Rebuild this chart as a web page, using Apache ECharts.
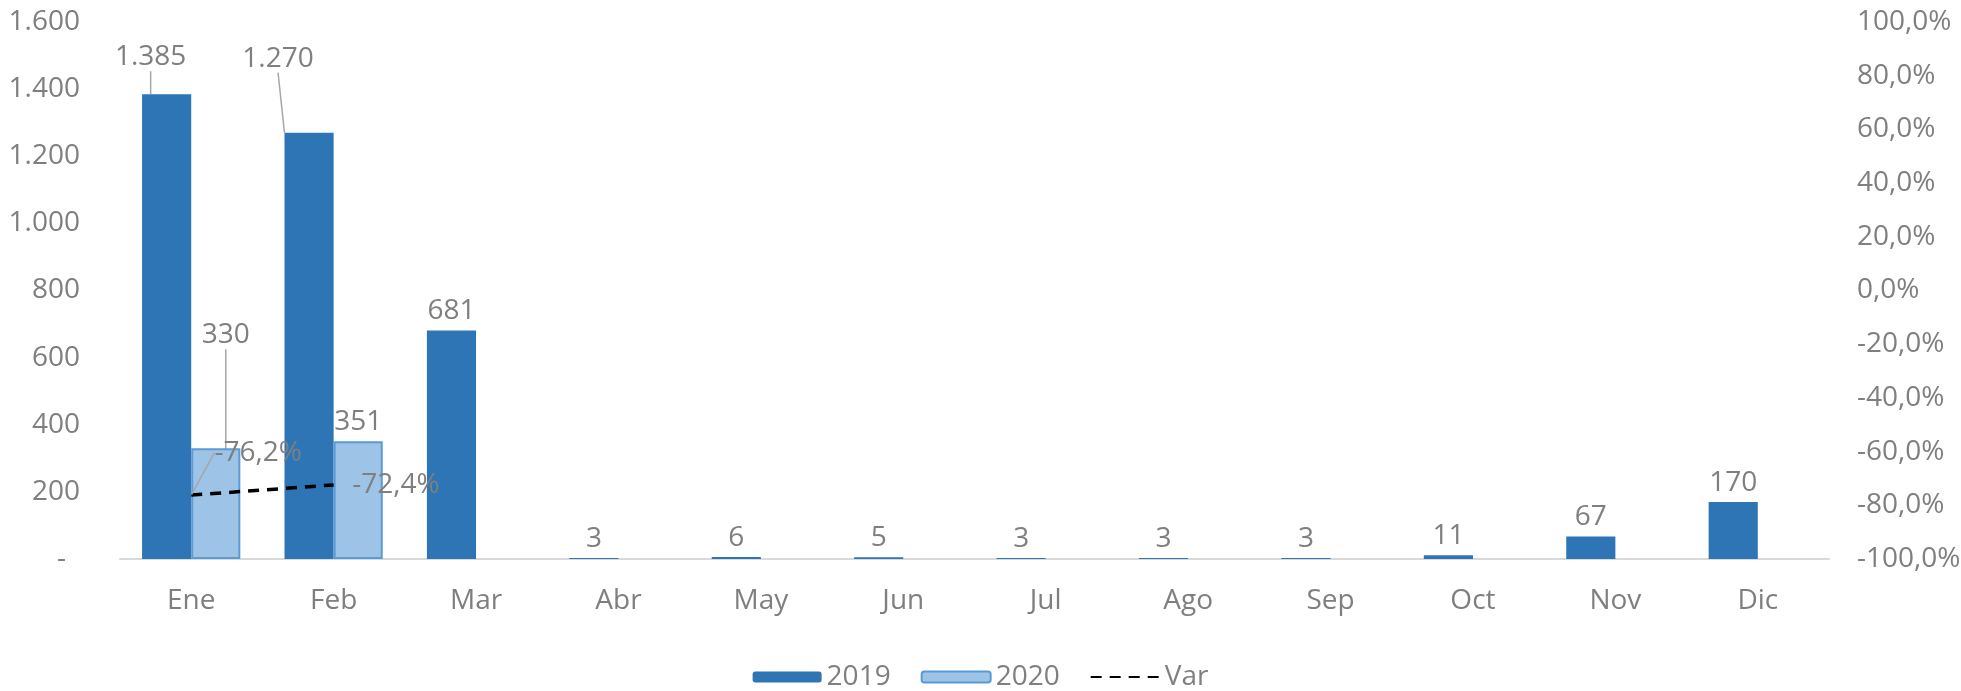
<!DOCTYPE html>
<html>
<head>
<meta charset="utf-8">
<script src="https://cdn.jsdelivr.net/npm/echarts@6/dist/echarts.min.js"></script>
<style>
html,body{margin:0;padding:0;background:#fff;}
#chart{width:1961px;height:691px;}
</style>
</head>
<body>
<div id="chart"></div>
<script>
// ---- data ----
const categories = ['Ene','Feb','Mar','Abr','May','Jun','Jul','Ago','Sep','Oct','Nov','Dic'];
const values2019 = [1385,1270,681,3,6,5,3,3,3,11,67,170];
const values2020 = [330,351,null,null,null,null,null,null,null,null,null,null];
const varPct = [-76.2,-72.4,null,null,null,null,null,null,null,null,null,null];
const leftTicks = {min:0,max:1600,interval:200};
const rightTicks = {min:-100,max:100,interval:20};

// ---- label placement (relative offsets, not data) ----
const offs2019 = {0:[-16,-18],1:[-31,-55]};
const offs2020 = {0:[10,-94]};
const offsVar = {0:[67,-23]};
const rightSideVar = {1:true};

const gray = '#7F7F7F';
const FONT = 'Open Sans';
const FS = 28;

function thousands(v){ return String(v).replace(/\B(?=(\d{3})+(?!\d))/g,'.'); }
function withLine(arr, offs){
  return arr.map((v,i)=> (offs[i] && v!=null) ? {value:v, labelLine:{show:true}} : v);
}
function layoutFrom(offs){
  return function(p){ const o = offs[p.dataIndex]; return o ? {dx:o[0], dy:o[1]} : {}; };
}

const chart = echarts.init(document.getElementById('chart'), null, {renderer:'canvas', width:1961, height:691});
const labelLine = {show:false, lineStyle:{color:'#A6A6A6', width:1.5}};

const varData = varPct.map((v,i)=>{
  if (v==null) return v;
  if (offsVar[i]) return {value:v, labelLine:{show:true}};
  if (rightSideVar[i]) return {value:v, label:{position:'right', distance:18}};
  return v;
});

chart.setOption({
  animation:false,
  textStyle:{fontFamily:FONT},
  grid:{left:120, right:132, top:22, bottom:132, containLabel:false, outerBoundsMode:'none'},
  legend:{
    top:658, left:'center', itemWidth:69, itemHeight:11, itemGap:30,
    textStyle:{color:gray, fontSize:FS, fontFamily:FONT},
    data:[{name:'2019'},{name:'2020'},{name:'Var'}]
  },
  xAxis:{
    type:'category', data:categories,
    axisLine:{lineStyle:{color:'#D9D9D9', width:2}},
    axisTick:{show:false},
    axisLabel:{color:gray, fontSize:FS, fontFamily:FONT, margin:28}
  },
  yAxis:[
    {type:'value', min:leftTicks.min, max:leftTicks.max, interval:leftTicks.interval,
     splitLine:{show:false}, axisLine:{show:false}, axisTick:{show:false},
     axisLabel:{color:gray, fontSize:FS, fontFamily:FONT, margin:40, align:'right',
       formatter:v=> v===0 ? '-\u2002' : thousands(v)}},
    {type:'value', min:rightTicks.min, max:rightTicks.max, interval:rightTicks.interval,
     splitLine:{show:false}, axisLine:{show:false}, axisTick:{show:false},
     axisLabel:{color:gray, fontSize:FS, fontFamily:FONT, margin:28, align:'left', hideOverlap:false,
       formatter:v=> (Math.round(v*10)/10).toFixed(1).replace('.',',')+'%'}}
  ],
  series:[
    {name:'2019', type:'bar', data:withLine(values2019, offs2019),
     barGap:'0%', barCategoryGap:'31%',
     itemStyle:{color:'#2E75B6'},
     label:{show:true, position:'top', distance:5, color:gray, fontSize:FS, fontFamily:FONT,
       formatter:p=>thousands(p.value)},
     labelLine:labelLine,
     labelLayout:layoutFrom(offs2019)},
    {name:'2020', type:'bar', data:withLine(values2020, offs2020),
     barGap:'0%', barCategoryGap:'31%',
     itemStyle:{color:'#9DC3E6', borderColor:'#5B9BD5', borderWidth:2},
     label:{show:true, position:'top', distance:5, color:gray, fontSize:FS, fontFamily:FONT,
       formatter:p=>thousands(p.value)},
     labelLine:labelLine,
     labelLayout:layoutFrom(offs2020)},
    {name:'Var', type:'line', yAxisIndex:1, data:varData,
     symbol:'circle', symbolSize:1, showSymbol:true,
     itemStyle:{color:'rgba(0,0,0,0)'},
     lineStyle:{color:'#000', width:3.5, type:[11,8]},
     label:{show:true, position:'top', distance:5, color:gray, fontSize:FS, fontFamily:FONT,
       formatter:p=>p.value.toFixed(1).replace('.',',')+'%'},
     labelLine:labelLine,
     labelLayout:layoutFrom(offsVar),
     emphasis:{disabled:true}}
  ]
});
</script>
</body>
</html>
